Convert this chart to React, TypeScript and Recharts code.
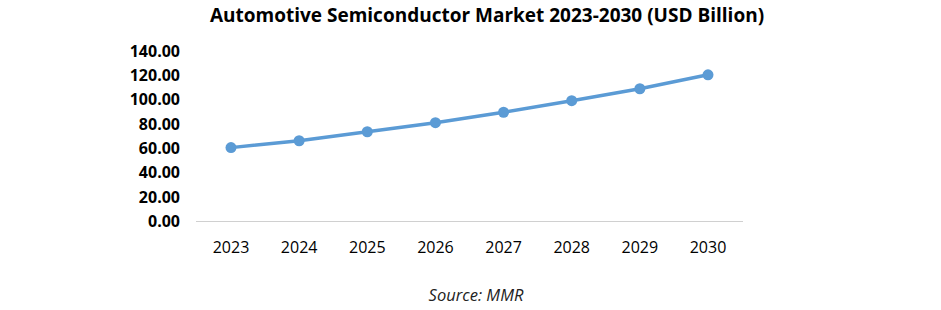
import React from "react";
import { LineChart, Line, XAxis, YAxis } from "recharts";

// ─── Data ─────────────────────────────────────────────────────────────────────

const years: string[] = ["2023", "2024", "2025", "2026", "2027", "2028", "2029", "2030"];
const marketSize: number[] = [60.66, 66.3, 73.7, 81.1, 89.7, 99.2, 109.0, 120.45];
const yTicks: number[] = [0, 20, 40, 60, 80, 100, 120, 140];

const data = years.map((year, i) => ({ year, value: marketSize[i] }));

const BLUE = "#5B9BD5";
const FONT = "'Open Sans', sans-serif";

// ─── Component ────────────────────────────────────────────────────────────────

const App: React.FC = () => {
  return (
    <div
      style={{
        position: "absolute",
        left: 0,
        top: 0,
        width: 941,
        height: 310,
        background: "#fff",
        fontFamily: FONT,
      }}
    >
      {/* Title */}
      <div
        style={{
          position: "absolute",
          left: 487,
          top: 2,
          transform: "translateX(-50%)",
          whiteSpace: "nowrap",
          fontSize: 19,
          fontWeight: 700,
          color: "#000",
        }}
      >
        Automotive Semiconductor Market 2023-2030 (USD Billion)
      </div>

      <LineChart
        width={941}
        height={310}
        data={data}
        margin={{ top: 51, right: 198, left: 0, bottom: 58.5 }}
      >
        <XAxis
          dataKey="year"
          height={30}
          padding={{ left: 35, right: 35 }}
          axisLine={{ stroke: "#d0d0d0", strokeWidth: 1 }}
          tickLine={false}
          tickMargin={14}
          tick={{ fontSize: 16, fill: "#000", fontFamily: FONT }}
        />
        <YAxis
          width={196}
          domain={[0, 140]}
          ticks={yTicks}
          axisLine={false}
          tickLine={false}
          tickMargin={10}
          tickFormatter={(v: number) => v.toFixed(2)}
          tick={{ fontSize: 16, fill: "#000", fontWeight: 700, fontFamily: FONT }}
        />
        <Line
          type="linear"
          dataKey="value"
          stroke={BLUE}
          strokeWidth={3.5}
          dot={{ r: 5.5, fill: BLUE, stroke: "none" }}
          activeDot={false}
          isAnimationActive={false}
        />
      </LineChart>

      {/* Source */}
      <div
        style={{
          position: "absolute",
          left: 476,
          top: 283,
          transform: "translateX(-50%)",
          whiteSpace: "nowrap",
          fontSize: 16.5,
          fontStyle: "italic",
          color: "#222",
        }}
      >
        Source: MMR
      </div>
    </div>
  );
};

export default App;
